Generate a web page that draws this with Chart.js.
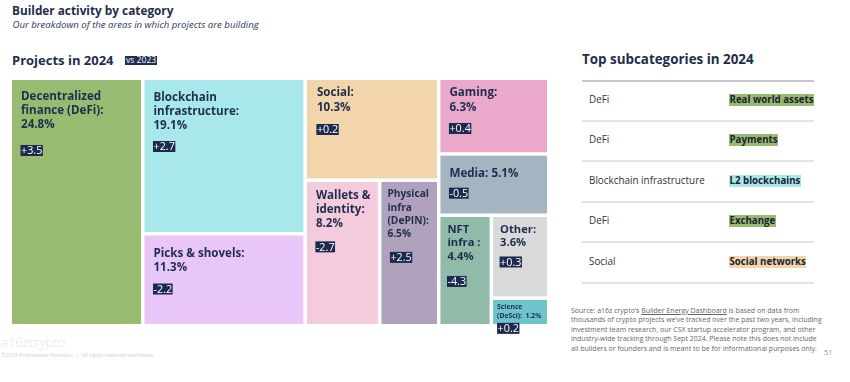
<!DOCTYPE html>
<html>
<head>
<meta charset="utf-8">
<script src="https://cdn.jsdelivr.net/npm/chart.js@4.4.1/dist/chart.umd.min.js"></script>
<style>
  html, body { margin:0; padding:0; background:#fff; }
  body { width:850px; height:382px; position:relative; overflow:hidden; font-family:"Open Sans", sans-serif; color:#1f2d4e; }
  .abs { position:absolute; white-space:nowrap; line-height:1; }
  #title { left:12px; top:4.5px; font-size:11.8px; font-weight:700; }
  #subtitle { left:12.5px; top:19.5px; font-size:9.6px; font-style:italic; color:#2a3a5a; }
  #proj { left:12px; top:53.5px; font-size:13px; font-weight:700; }
  #vs { left:125px; top:55.5px; font-size:8.6px; background:#1f2d4e; color:#fff; padding:0.7px 1px; }
  #top { left:582px; top:53px; font-size:13.4px; font-weight:700; }
  .hline { position:absolute; left:582px; width:232px; height:2px; background:#e3e3e3; }
  .rowl { position:absolute; left:589px; font-size:9.9px; color:#333; line-height:1; }
  .rowr { position:absolute; left:729px; font-size:9.7px; font-weight:700; color:#1a2233; line-height:12px; padding:0 0.5px; }
  #source { left:571px; top:305.5px; font-size:7px; line-height:9.6px; color:#666; }
  #source u { text-decoration:underline; }
  #page { left:824px; top:348.5px; font-size:7.5px; color:#999; }
  #logo { left:1px; top:336px; font-size:13.5px; font-weight:300; color:#e6e6e6; letter-spacing:-0.3px; }
  #copy { left:1px; top:352.5px; font-size:5.3px; color:#cfcfcf; }
  canvas { position:absolute; left:0; top:0; }
</style>
</head>
<body>
<div class="abs" id="title">Builder activity by category</div>
<div class="abs" id="subtitle">Our breakdown of the areas in which projects are building</div>
<div class="abs" id="proj">Projects in 2024</div>
<div class="abs" id="vs">vs 2023</div>
<div class="abs" id="top">Top subcategories in 2024</div>
<div id="table"></div>
<div class="abs" id="source">Source: a16z crypto’s <u>Builder Energy Dashboard</u> is based on data from<br>thousands of crypto projects we’ve tracked over the past two years, including<br>investment team research, our CSX startup accelerator program, and other<br>industry-wide tracking through Sept 2024. Please note this does not include<br>all builders or founders and is meant to be for informational purposes only.</div>
<div class="abs" id="page">51</div>
<div class="abs" id="logo">a16zcrypto</div>
<div class="abs" id="copy">©2024 Andreessen Horowitz.&nbsp; |&nbsp; All rights reserved worldwide.</div>
<canvas id="c" width="850" height="382"></canvas>
<script>
// ---- Data ----
const categories = ['Decentralized\nfinance (DeFi):', 'Blockchain\ninfrastructure:', 'Picks & shovels:', 'Social:', 'Gaming:', 'Media:', 'Wallets &\nidentity:', 'Physical\ninfra\n(DePIN):', 'NFT\ninfra :', 'Other:', 'Science\n(DeSci):'];
const shares = [24.8, 19.1, 11.3, 10.3, 6.3, 5.1, 8.2, 6.5, 4.4, 3.6, 1.2];
const changes = [3.5, 2.7, -2.2, 0.2, 0.4, -0.5, -2.7, 2.5, -4.3, 0.3, 0.2];
const colors = ['#98bb72', '#a9e8ea', '#e8c6f8', '#f3d5ac', '#eaa9cb', '#a4b4c1', '#f3cbdc', '#b0a1bd', '#91bba9', '#d9d9d9', '#6dc4c9'];
const tableCategories = ['DeFi', 'DeFi', 'Blockchain infrastructure', 'DeFi', 'Social'];
const tableSubcategories = ['Real world assets', 'Payments', 'L2 blockchains', 'Exchange', 'Social networks'];
const tableColorIndex = [0, 0, 1, 0, 3];

// treemap grouping (indices into the arrays above); 'h' = side by side, 'v' = stacked
const tree = ['h', 0, ['v', 1, 2], ['h', ['v', 3, ['h', 6, 7]], ['v', 4, 5, ['h', 8, ['v', 9, 10]]]]];

// ---- Table (HTML) ----
const tbl = document.getElementById('table');
const lineYs = [79.5, 119.5, 159.5, 200.5, 241, 281.5];
lineYs.forEach((y, i) => {
  const d = document.createElement('div'); d.className = 'hline'; d.style.top = y + 'px';
  if (i === 0) d.style.background = '#c8c8c8';
  tbl.appendChild(d);
});
tableCategories.forEach((c, i) => {
  const mid = (lineYs[i] + lineYs[i + 1]) / 2 + 1;
  const l = document.createElement('div'); l.className = 'rowl'; l.textContent = c;
  l.style.top = (mid - 5.5) + 'px'; tbl.appendChild(l);
  const r = document.createElement('div'); r.className = 'rowr'; r.textContent = tableSubcategories[i];
  r.style.top = (mid - 6.5) + 'px'; r.style.background = colors[tableColorIndex[i]]; tbl.appendChild(r);
});

// ---- Treemap layout from values ----
function total(n) { return typeof n === 'number' ? shares[n] : n.slice(1).reduce((s, k) => s + total(k), 0); }
const rects = [];
function layout(n, x0, y0, x1, y1) {
  if (typeof n === 'number') { rects[n] = { x0, y0, x1, y1 }; return; }
  const kids = n.slice(1), t = total(n);
  let p = n[0] === 'h' ? x0 : y0;
  kids.forEach(k => {
    const f = total(k) / t;
    if (n[0] === 'h') { const q = p + f * (x1 - x0); layout(k, p, y0, q, y1); p = q; }
    else { const q = p + f * (y1 - y0); layout(k, x0, p, x1, q); p = q; }
  });
}
layout(tree, 0, 0, 1, 1);
const points = rects.map((r, i) => ({ x: (r.x0 + r.x1) / 2, y: (r.y0 + r.y1) / 2, r, i }));

// label styling per cell: [firstBaseline, lineHeight, fontSize, padX, badgeGap, badgeDx, inlineShare]
const styles = {
  0: [20, 14, 11.6, 9, 17, 0, false],
  1: [20.5, 14, 11.6, 9, 12.5, 0, false],
  2: [21.5, 14, 11.6, 9, 12.5, 0, false],
  3: [16, 15, 11.6, 10, 13, 0, false],
  4: [16, 15, 11.6, 9, 12, 0, false],
  5: [21, 14, 11.6, 9, 11, 0, true],
  6: [17, 14.2, 11.6, 9, 14, 0, false],
  7: [15.5, 13.3, 10.2, 6, 14.5, 3, false],
  8: [16, 13.5, 11.2, 7, 16, 0, false],
  9: [16, 13.5, 11.2, 7, 10, 0, false],
  10: [9, 9, 6.8, 4, 5, 0.5, true]
};

const GAP = 1.75;
const treemapPlugin = {
  id: 'treemapCells',
  afterDatasetsDraw(chart) {
    const ctx = chart.ctx, xs = chart.scales.x, ys = chart.scales.y;
    const meta = chart.getDatasetMeta(0);
    const data = chart.data.datasets[0].data;
    ctx.save();
    meta.data.forEach((el, k) => {
      const d = data[k], i = d.i, r = d.r;
      const px0 = xs.getPixelForValue(r.x0) + GAP, px1 = xs.getPixelForValue(r.x1) - GAP;
      const py0 = ys.getPixelForValue(r.y0) + GAP, py1 = ys.getPixelForValue(r.y1) - GAP;
      ctx.fillStyle = colors[i];
      ctx.fillRect(px0, py0, px1 - px0, py1 - py0);
    });
    meta.data.forEach((el, k) => {
      const d = data[k], i = d.i, r = d.r;
      const px0 = xs.getPixelForValue(r.x0) + GAP;
      const py0 = ys.getPixelForValue(r.y0) + GAP;
      const [fb, lh, fs, padX, bg, bdx, inline] = styles[i];
      const lines = categories[i].split('\n');
      const share = shares[i].toFixed(1) + '%';
      if (inline) lines[lines.length - 1] += (i === 10 ? '  ' : ' ') + share; else lines.push(share);
      ctx.fillStyle = '#1f2d4e';
      ctx.font = '700 ' + fs + 'px "Open Sans"';
      ctx.textBaseline = 'alphabetic';
      const y = py0 + fb;
      lines.forEach((ln, j) => { ctx.fillText(ln, px0 + padX, y + j * lh); });
      const lastY = y + (lines.length - 1) * lh;
      const ch = (changes[i] > 0 ? '+' : '') + changes[i].toFixed(1);
      ctx.font = '400 10.8px "Open Sans"';
      const w = ctx.measureText(ch).width;
      const bx = px0 + padX + bdx - 0.5, by = lastY + bg;
      ctx.fillStyle = '#1c2a4e';
      ctx.fillRect(bx, by, w + 1, 11);
      ctx.fillStyle = '#ffffff';
      ctx.fillText(ch, bx + 0.5, by + 9.4);
    });
    ctx.restore();
  }
};

new Chart(document.getElementById('c'), {
  type: 'scatter',
  data: { datasets: [{ data: points, pointRadius: 0, pointHoverRadius: 0 }] },
  options: {
    responsive: false,
    animation: false,
    events: [],
    layout: { padding: { left: 10.25, right: 850 - 548.75, top: 78.25, bottom: 382 - 325.75 } },
    plugins: { legend: { display: false }, tooltip: { enabled: false } },
    scales: {
      x: { type: 'linear', min: 0, max: 1, display: false },
      y: { type: 'linear', min: 0, max: 1, reverse: true, display: false }
    }
  },
  plugins: [treemapPlugin]
});
</script>
</body>
</html>
